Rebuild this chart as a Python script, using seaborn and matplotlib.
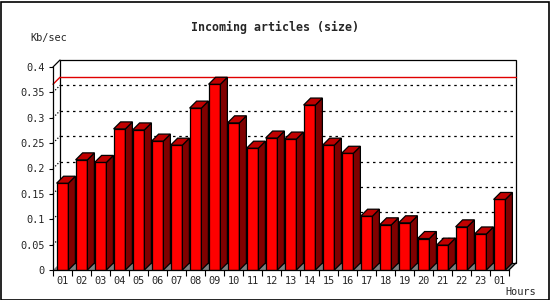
import numpy as np
import pandas as pd
import matplotlib
matplotlib.use("Agg")
import matplotlib.pyplot as plt
import seaborn as sns
from matplotlib.patches import Polygon, Rectangle

# ---- data ----
hour_labels = ["01", "02", "03", "04", "05", "06", "07", "08", "09", "10", "11", "12",
               "13", "14", "15", "16", "17", "18", "19", "20", "21", "22", "23", "01"]
values = [0.171, 0.217, 0.212, 0.278, 0.276, 0.254, 0.246, 0.319, 0.366, 0.290, 0.240, 0.260,
          0.258, 0.325, 0.246, 0.230, 0.106, 0.089, 0.093, 0.062, 0.049, 0.085, 0.071, 0.139]
y_ticks = [0, 0.05, 0.1, 0.15, 0.2, 0.25, 0.3, 0.35, 0.4]
y_tick_labels = ["0", "0.05", "0.1", "0.15", "0.2", "0.25", "0.3", "0.35", "0.4"]
title = "Incoming articles (size)"
y_unit = "Kb/sec"
x_unit = "Hours"

sns.set_style("white")
plt.rcParams["font.family"] = ["DejaVu Sans Mono"]

W, H = 550, 300
fig = plt.figure(figsize=(W / 100, H / 100), dpi=100)
fig.patch.set_facecolor("white")
ax_h = 203
ax = fig.add_axes([53 / W, 30 / H, 456 / W, ax_h / H])

df = pd.DataFrame({"slot": np.arange(len(values)), "value": values})
sns.barplot(data=df, x="slot", y="value", color="#ff0000", saturation=1, width=0.62,
            edgecolor="black", linewidth=0.9, ax=ax, zorder=3)

n = len(values)
ax.set_xlim(-0.5, n - 0.5)
ax.set_ylim(0, 0.4)
ax.set_facecolor("none")

px_x = 456 / n          # pixels per category
px_y = ax_h / 0.4       # pixels per unit
dx = 7 / px_x
dy = 7 / px_y

# 3D faces for bars
bars = list(ax.patches)
for p in bars:
    x0 = p.get_x()
    x1 = x0 + p.get_width()
    h = p.get_height()
    side = Polygon([(x1, 0), (x1 + dx, dy), (x1 + dx, h + dy), (x1, h)], closed=True,
                   facecolor="#800000", edgecolor="black", lw=0.9, zorder=3, clip_on=False)
    top = Polygon([(x0, h), (x0 + dx, h + dy), (x1 + dx, h + dy), (x1, h)], closed=True,
                  facecolor="#c00000", edgecolor="black", lw=0.9, zorder=3, clip_on=False)
    ax.add_patch(side)
    ax.add_patch(top)

xl, xr = -0.5, n - 0.5
# floor
ax.add_patch(Polygon([(xl, 0), (xr, 0), (xr + dx, dy), (xl + dx, dy)], closed=True,
                     facecolor="#808080", edgecolor="none", zorder=1, clip_on=False))
# back frame
ax.add_patch(Rectangle((xl + dx, dy), n, 0.4, fill=False, edgecolor="black", lw=0.9,
                       zorder=1, clip_on=False))
# gridlines on back plane
for v in y_ticks[1:-1]:
    ax.plot([xl + dx, xr + dx], [v + dy, v + dy], color="black", lw=0.9,
            ls=(0, (2, 3)), zorder=1.5, clip_on=False)
    ax.plot([xl, xl + dx], [v, v + dy], color="black", lw=0.9,
            ls=(0, (1, 1.5)), zorder=1.5, clip_on=False)
# max line
vmax = max(values)
ax.plot([xl + dx, xr + dx], [vmax + dy, vmax + dy], color="#e00000", lw=1.0,
        zorder=1.6, clip_on=False)
ax.plot([xl, xl + dx], [vmax, vmax + dy], color="#e00000", lw=1.0, zorder=1.6, clip_on=False)
# connecting diagonals
ax.plot([xl, xl + dx], [0.4, 0.4 + dy], color="black", lw=0.9, zorder=2, clip_on=False)
ax.plot([xr, xr + dx], [0, dy], color="black", lw=0.9, zorder=2, clip_on=False)

# spines
for s in ["top", "right"]:
    ax.spines[s].set_visible(False)
for s in ["left", "bottom"]:
    ax.spines[s].set_color("black")
    ax.spines[s].set_linewidth(0.9)
    ax.spines[s].set_zorder(4)

ax.set_yticks(y_ticks)
ax.set_yticklabels(y_tick_labels)
ax.set_xticks(np.arange(-0.5, n, 1))
ax.set_xticklabels([""] * (n + 1))
ax.set_xticks(np.arange(n), minor=True)
ax.set_xticklabels(hour_labels, minor=True)
ax.tick_params(axis="y", which="major", direction="out", length=3, width=0.8,
               color="black", labelsize=7.4, pad=3, left=True)
ax.tick_params(axis="x", which="major", direction="out", length=4, width=0.8,
               color="black", bottom=True)
ax.tick_params(axis="x", which="minor", length=0, labelsize=7.4, pad=4)
ax.set_xlabel("")
ax.set_ylabel("")
ax.grid(False)

fig.text(275 / W, 1 - 27 / H, title, ha="center", va="center", fontsize=8.4,
         fontweight="bold")
fig.text(30 / W, 1 - 38 / H, y_unit, ha="left", va="center", fontsize=7.4)
fig.text(505 / W, 1 - 292 / H, x_unit, ha="left", va="center", fontsize=7.4)

fig.patches.append(Rectangle((0.5 / W, 0.5 / H), 1 - 2 / W, 1 - 2 / H,
                             transform=fig.transFigure, fill=False,
                             edgecolor="black", lw=1.2))

fig.savefig("out.png", dpi=100, facecolor="white")
